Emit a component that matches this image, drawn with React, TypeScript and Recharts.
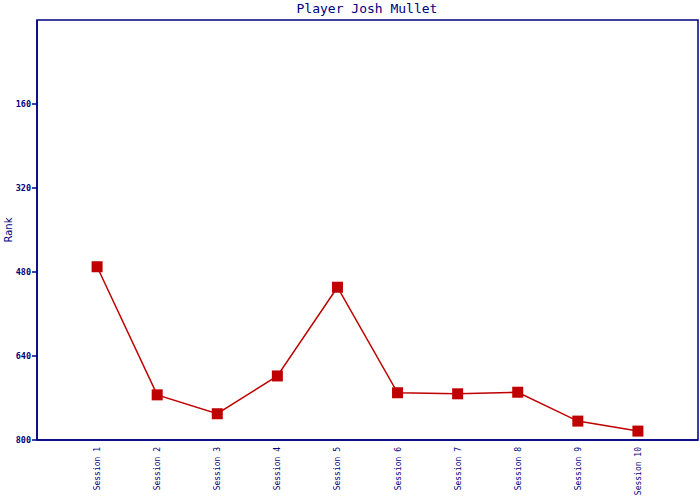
import { Line, LineChart, XAxis, YAxis, Label, ReferenceArea } from "recharts";

const sessions = [1, 2, 3, 4, 5, 6, 7, 8, 9, 10];
const ranks = [470, 714, 750, 678, 509, 710, 712, 709, 764, 783];
const yTicks = [160, 320, 480, 640, 800];

const data = sessions.map((s, i) => ({ session: s, rank: ranks[i] }));

const NAVY = "#000080";
const RED = "#c00000";
const MONO = "DejaVu Sans Mono, monospace";

function SessionTick(props: any) {
  const { x, payload } = props;
  return (
    <text
      x={0}
      y={0}
      transform={`translate(${x + 3},447) rotate(-90)`}
      textAnchor="end"
      fontFamily={MONO}
      fontSize={8}
      fill={NAVY}
    >
      {`Session ${payload.value}`}
    </text>
  );
}

function SquareDot(props: any) {
  const { cx, cy } = props;
  return <rect x={cx - 5.5} y={cy - 5.5} width={11} height={11} fill={RED} />;
}

export default function App() {
  return (
    <div style={{ position: "absolute", left: 0, top: 0, width: 700, height: 500, background: "#fff" }}>
      <div
        style={{
          position: "absolute",
          top: 0,
          left: 0,
          width: 734,
          textAlign: "center",
          fontFamily: MONO,
          fontSize: 13,
          color: NAVY,
          lineHeight: "17px",
        }}
      >
        Player Josh Mullet
      </div>
      <LineChart width={700} height={500} data={data} margin={{ top: 20, right: 2, left: 0, bottom: 0 }}>
        <XAxis
          dataKey="session"
          type="number"
          domain={[0, 11]}
          ticks={sessions}
          tick={<SessionTick />}
          tickLine={false}
          axisLine={{ stroke: NAVY, strokeWidth: 1.5 }}
          height={60}
          interval={0}
        />
        <YAxis
          type="number"
          domain={[0, 800]}
          reversed
          ticks={yTicks}
          width={37}
          tickSize={5}
          tickMargin={1}
          tickLine={{ stroke: NAVY, strokeWidth: 1.5 }}
          axisLine={{ stroke: NAVY, strokeWidth: 1.5 }}
          tick={{ fontFamily: MONO, fontSize: 8.5, fontWeight: "bold", fill: NAVY }}
        >
          <Label
            value="Rank"
            angle={-90}
            position="insideLeft"
            offset={8}
            style={{ fontFamily: "DejaVu Sans, sans-serif", fontSize: 10, fill: NAVY, textAnchor: "middle" }}
          />
        </YAxis>
        <ReferenceArea
          x1={0}
          x2={11}
          y1={0}
          y2={800}
          fill="none"
          stroke={NAVY}
          strokeWidth={1.5}
          ifOverflow="visible"
        />
        <Line
          dataKey="rank"
          stroke={RED}
          strokeWidth={1.5}
          dot={<SquareDot />}
          activeDot={false}
          isAnimationActive={false}
        />
      </LineChart>
    </div>
  );
}
